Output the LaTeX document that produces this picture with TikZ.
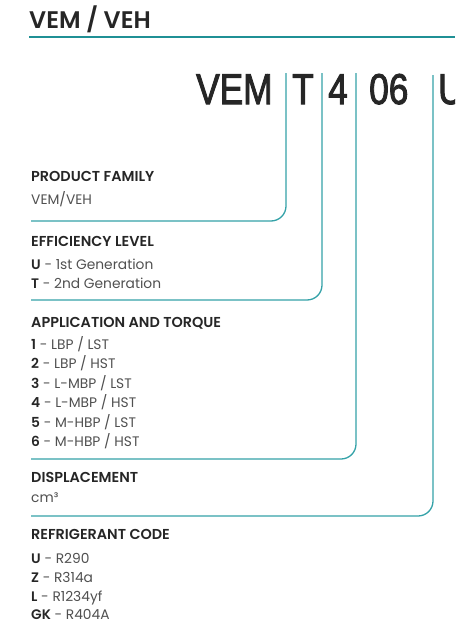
\documentclass[tikz,border=0pt]{standalone}
\usepackage{fontspec}
\setmainfont{Poppins}[BoldFont={Poppins SemiBold}]
\newfontfamily\codefont{Liberation Sans}[FakeBold=2.5]
\definecolor{ink}{HTML}{262626}
\definecolor{body}{HTML}{505050}
\definecolor{teal}{HTML}{34A2A8}
\definecolor{tealdark}{HTML}{1F9095}
\tikzset{
  hdr/.style={anchor=base west, inner sep=0pt, text=ink, font=\fontsize{14.4}{16}\selectfont\bfseries},
  txt/.style={anchor=base west, inner sep=0pt, text=body, font=\fontsize{13.8}{16}\selectfont},
  code/.style={anchor=base west, inner sep=0pt, text=ink, font=\fontsize{43}{46}\codefont},
  lead/.style={draw=teal, line width=1.3pt, rounded corners=15pt},
}
\newcommand{\cs}[1]{\scalebox{0.82}[1]{#1}}
\newcommand{\pre}[1]{\textcolor{ink}{\bfseries #1}}
\begin{document}
\begin{tikzpicture}[x=1pt,y=-1pt]
\useasboundingbox (0,0) rectangle (455,626);
\clip (0,0) rectangle (455,626);
% title
\node[anchor=base west, inner sep=0pt, text=ink, font=\fontsize{24}{26}\selectfont\bfseries] (title) at (29,29) {VEM / VEH};
\coordinate (ulA) at (29,37);
\coordinate (ulB) at (455,37);
\draw[tealdark, line width=1.5pt] (ulA) -- (ulB);
% code
\node[code] (cVEM) at (196,104) {\cs{VEM}};
\node[code] (cT) at (292,104) {\cs{T}};
\node[code] (c4) at (328,104) {\cs{4}};
\node[code] (c06) at (369,104) {\cs{06}};
\node[code] (cU) at (438,104) {\cs{U}};
% labels
\node[hdr] (h1) at (31,181) {PRODUCT FAMILY};
\node[txt] (t1) at (31,204) {VEM/VEH};
\node[hdr] (h2) at (31,246) {EFFICIENCY LEVEL};
\node[txt] (t2a) at (31,269) {\pre{U} - 1st Generation};
\node[txt] (t2b) at (31,288) {\pre{T} - 2nd Generation};
\node[hdr] (h3) at (31,327) {APPLICATION AND TORQUE};
\node[txt] (t3a) at (31,349) {\pre{1} - LBP / LST};
\node[txt] (t3b) at (31,368) {\pre{2} - LBP / HST};
\node[txt] (t3c) at (31,388) {\pre{3} - L-MBP / LST};
\node[txt] (t3d) at (31,407) {\pre{4} - L-MBP / HST};
\node[txt] (t3e) at (31,427) {\pre{5} - M-HBP / LST};
\node[txt] (t3f) at (31,446) {\pre{6} - M-HBP / HST};
\node[hdr] (h4) at (31,482) {DISPLACEMENT};
\node[txt] (t4) at (31,502) {cm³};
\node[hdr] (h5) at (31,539) {REFRIGERANT CODE};
\node[txt] (t5a) at (31,563) {\pre{U} - R290};
\node[txt] (t5b) at (31,582) {\pre{Z} - R314a};
\node[txt] (t5c) at (31,601) {\pre{L} - R1234yf};
\node[txt] (t5d) at (31,619) {\pre{GK} - R404A};
% leaders
\coordinate (s1) at (286,73); \coordinate (e1) at (31,221);
\coordinate (s2) at (322,73); \coordinate (e2) at (31,300);
\coordinate (s3) at (356,73); \coordinate (e3) at (31,459);
\coordinate (s4) at (433,75); \coordinate (e4) at (31,516);
\draw[lead] (s1) |- (e1);
\draw[lead] (s2) |- (e2);
\draw[lead] (s3) |- (e3);
\draw[lead] (s4) |- (e4);
\end{tikzpicture}
\end{document}
